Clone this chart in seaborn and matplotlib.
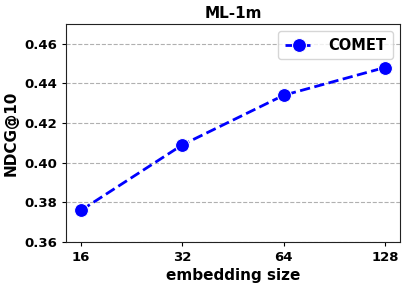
import matplotlib
matplotlib.use("Agg")
import matplotlib.pyplot as plt
import pandas as pd
import seaborn as sns

# values
embedding_sizes = [16, 32, 64, 128]
ndcg_comet = [0.376, 0.409, 0.434, 0.448]
y_ticks = [0.36, 0.38, 0.40, 0.42, 0.44, 0.46]

sns.set_style("ticks")
plt.rcParams["font.family"] = ["DejaVu Sans"]
plt.rcParams["text.color"] = "black"
plt.rcParams["axes.labelcolor"] = "black"
plt.rcParams["xtick.color"] = "black"
plt.rcParams["ytick.color"] = "black"

df = pd.DataFrame({"size": embedding_sizes, "ndcg": ndcg_comet})

fig = plt.figure(figsize=(4.1, 2.88), dpi=100)
ax = fig.add_axes([0.161, 0.160, 0.815, 0.757])

sns.lineplot(
    data=df, x="size", y="ndcg", ax=ax,
    color="blue", marker="o", markersize=10, linewidth=2,
    linestyle="--", label="COMET",
)
ax.set_xscale("log", base=2)
ax.set_xticks(embedding_sizes)
ax.set_xticklabels([str(s) for s in embedding_sizes])
ax.minorticks_off()
ax.set_ylim(0.36, 0.47)
ax.set_yticks(y_ticks)
ax.set_yticklabels([f"{v:.2f}" for v in y_ticks])
ax.tick_params(length=3, width=0.8)
ax.grid(axis="y", linestyle="--", color="#b0b0b0", linewidth=0.8)
ax.set_axisbelow(True)

for lab in ax.get_xticklabels() + ax.get_yticklabels():
    lab.set_fontweight("bold")
    lab.set_fontsize(9.5)
for sp in ax.spines.values():
    sp.set_color("#222222")

ax.set_xlabel("embedding size", fontsize=11, fontweight="bold", labelpad=3)
ax.set_ylabel("NDCG@10", fontsize=11, fontweight="bold")
ax.set_title("ML-1m", fontsize=11, fontweight="bold", pad=4)
ax.legend(loc="upper right", prop={"weight": "bold", "size": 10.5},
          handlelength=2, handletextpad=1.0, borderpad=0.45)

fig.savefig("out.png", dpi=100)
